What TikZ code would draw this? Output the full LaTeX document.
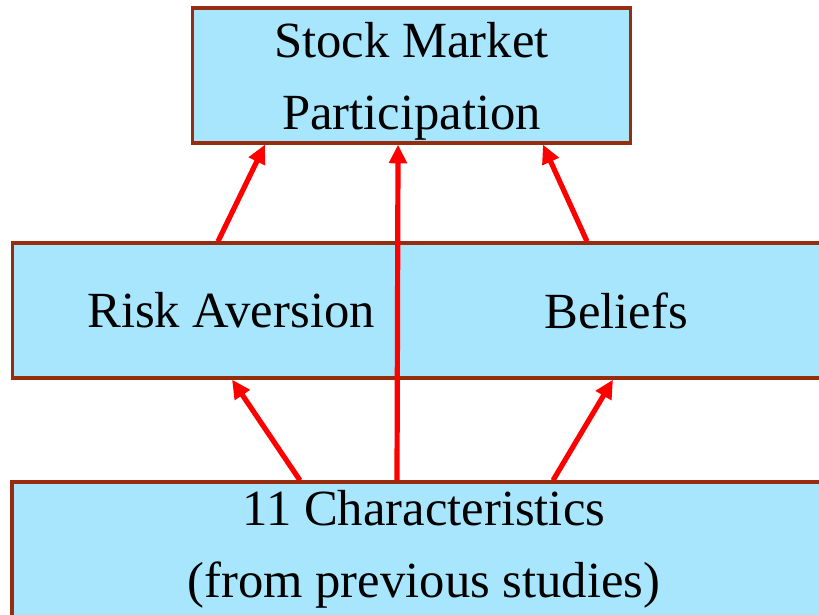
\documentclass[tikz,border=0pt]{standalone}
\usepackage{fontspec}
\setmainfont{Liberation Serif}
\usepackage{tikz}
\usepackage{xcolor}
\usetikzlibrary{positioning, calc, arrows.meta}

\definecolor{boxfill}{RGB}{168,230,254}
\definecolor{boxline}{RGB}{150,45,15}

\begin{document}
\begin{tikzpicture}[x=0.75pt,y=-0.75pt,
    blk/.style={draw=boxline,line width=2.4pt,fill=boxfill,inner sep=2pt,
        minimum width=328pt,minimum height=101.25pt,align=center,
        font=\fontsize{38}{54}\selectfont},
    arr/.style={red,line width=3.9pt,-{Triangle[length=14pt,width=13pt]}}]
    \useasboundingbox (0,0) rectangle (819,615);
    \clip (0,0) rectangle (819,615);
    % middle row: the right box overlaps the left one
    \node[blk] (ra) at (231,310.5) {Risk Aversion};
    \node[blk] (bel) at (616,310.5) {Beliefs};
    \node[blk,text depth=0pt] (smp) at (411.5,75.5) {Stock Market\\Participation};
    \node[blk,minimum width=618pt] (chr) at (424,549.5) {11 Characteristics\\(from previous studies)};
    \draw[arr] ([xshift=-9.75pt]ra.north) -- ([xshift=-109.9pt]smp.south);
    \draw[arr] ([xshift=-21.75pt]bel.north) -- ([xshift=98.6pt]smp.south);
    \draw[arr] ([xshift=-20.25pt]chr.north) -- ([xshift=-10.1pt]smp.south);
    \draw[arr] ([xshift=-93pt]chr.north) -- ([xshift=0.75pt]ra.south);
    \draw[arr] ([xshift=96.75pt]chr.north) -- ([xshift=-2.25pt]bel.south);
\end{tikzpicture}
\end{document}
